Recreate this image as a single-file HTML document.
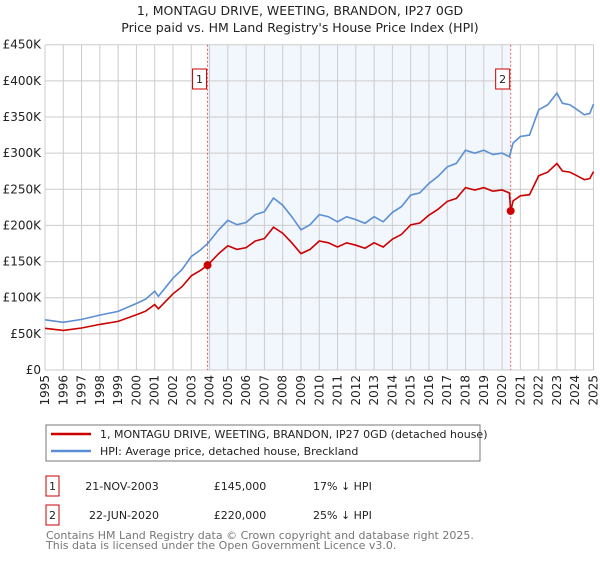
<!DOCTYPE html>
<html><head><meta charset="utf-8"><style>
body{margin:0;background:#fff;font-family:"DejaVu Sans","Liberation Sans",sans-serif;}
svg text{font-family:"DejaVu Sans","Liberation Sans",sans-serif;}
</style></head><body>
<svg id="c" width="600" height="560" viewBox="0 0 600 560" xmlns="http://www.w3.org/2000/svg">
<text x="300" y="15" text-anchor="middle" font-size="12.5" fill="#222">1, MONTAGU DRIVE, WEETING, BRANDON, IP27 0GD</text>
<text x="300" y="32" text-anchor="middle" font-size="12.5" fill="#222">Price paid vs. HM Land Registry's House Price Index (HPI)</text>
<g id="grid"></g><g id="marks"></g><g id="axes"></g>
<rect x="46" y="425" width="434" height="36" fill="#fff" stroke="#777"/>
<line x1="51" y1="434" x2="91" y2="434" stroke="#cc0000" stroke-width="2.5"/>
<text x="100" y="438" font-size="11" fill="#222">1, MONTAGU DRIVE, WEETING, BRANDON, IP27 0GD (detached house)</text>
<line x1="51" y1="451" x2="91" y2="451" stroke="#5b8fd4" stroke-width="2.5"/>
<text x="100" y="455" font-size="11" fill="#222">HPI: Average price, detached house, Breckland</text>
<rect x="46" y="476" width="13" height="20" fill="#fff" stroke="#cc0000"/>
<text x="52.5" y="490" text-anchor="middle" font-size="11" fill="#222">1</text>
<text x="122" y="490" text-anchor="middle" font-size="11" fill="#222">21-NOV-2003</text>
<text x="240" y="490" text-anchor="middle" font-size="11" fill="#222">£145,000</text>
<text x="313" y="490" font-size="11" fill="#222">17% ↓ HPI</text>
<rect x="46" y="505" width="13" height="20" fill="#fff" stroke="#cc0000"/>
<text x="52.5" y="519" text-anchor="middle" font-size="11" fill="#222">2</text>
<text x="124" y="519" text-anchor="middle" font-size="11" fill="#222">22-JUN-2020</text>
<text x="240" y="519" text-anchor="middle" font-size="11" fill="#222">£220,000</text>
<text x="313" y="519" font-size="11" fill="#222">25% ↓ HPI</text>
<text x="46" y="539" font-size="11" fill="#777">Contains HM Land Registry data © Crown copyright and database right 2025.</text>
<text x="46" y="549" font-size="11" fill="#777">This data is licensed under the Open Government Licence v3.0.</text>
</svg>
<script>
const hpiYears=[1995,1996,1997,1998,1999,2000,2000.5,2001,2001.2,2002,2002.5,2003,2003.5,2003.9,2004.5,2005,2005.5,2006,2006.5,2007,2007.5,2008,2008.5,2009,2009.5,2010,2010.5,2011,2011.5,2012,2012.5,2013,2013.5,2014,2014.5,2015,2015.5,2016,2016.5,2017,2017.5,2018,2018.5,2019,2019.5,2020,2020.4,2020.6,2021,2021.5,2022,2022.5,2023,2023.3,2023.7,2024,2024.5,2024.8,2025];
const hpiValues=[69.5,66,70,76,81,92,98,109,102,127,139,157,166,175,194,207,201,204,215,219,238,228,212,194,201,215,212,205,212,208,203,212,205,218,226,242,245,258,268,281,286,304,300,304,298,300,295,314,323,325,360,367,383,369,367,362,353,355,368];
const propYears=[1995,1996,1997,1998,1999,2000,2000.5,2001,2001.2,2002,2002.5,2003,2003.5,2003.9,2004.5,2005,2005.5,2006,2006.5,2007,2007.5,2008,2008.5,2009,2009.5,2010,2010.5,2011,2011.5,2012,2012.5,2013,2013.5,2014,2014.5,2015,2015.5,2016,2016.5,2017,2017.5,2018,2018.5,2019,2019.5,2020,2020.4,2020.47,2020.6,2021,2021.5,2022,2022.5,2023,2023.3,2023.7,2024,2024.5,2024.8,2025];
const propValues=[57.7,54.8,58.1,63.1,67.2,76.4,81.3,90.5,84.7,105.4,115.4,130.3,137.8,145,161,171.8,166.8,169.3,178.5,181.8,197.5,189.2,176,161,166.8,178.5,176,170.2,176,172.6,168.5,176,170.2,181,187.6,200.9,203.4,214.1,222.4,233.2,237.4,252.3,249,252.3,247.3,249,245,220,234,241,242.5,268.6,273.8,285.7,275.3,273.8,270,263.3,264.8,274.5];
const saleYears=[2003.89,2020.47];
const salePrices=[145,220];
const saleLabels=["1","2"];
const yTicks=[0,50,100,150,200,250,300,350,400,450];
const yTickLabels=["£0","£50K","£100K","£150K","£200K","£250K","£300K","£350K","£400K","£450K"];
const xTicks=[1995,1996,1997,1998,1999,2000,2001,2002,2003,2004,2005,2006,2007,2008,2009,2010,2011,2012,2013,2014,2015,2016,2017,2018,2019,2020,2021,2022,2023,2024,2025];

const L=45,R=593.5,T=44.7,B=370;
const xs=y=>L+(y-1995)/30*(R-L);
const ys=v=>B-v/450*(B-T);
const NS="http://www.w3.org/2000/svg";
function mk(p,tag,at){const e=document.createElementNS(NS,tag);for(const k in at)e.setAttribute(k,at[k]);p.appendChild(e);return e;}
const grid=document.getElementById('grid'),marks=document.getElementById('marks'),axes=document.getElementById('axes');
const sh=mk(grid,'rect',{x:xs(saleYears[0]),y:T,width:xs(saleYears[1])-xs(saleYears[0]),height:B-T,fill:'#f2f6fd'});


yTicks.forEach((v,i)=>{
  const g=mk(grid,'line',{x1:L,x2:R,y1:ys(v),y2:ys(v),stroke:'#cccccc','stroke-width':1});
  
  
  const t=mk(axes,'text',{x:L-4,y:ys(v)+4,'text-anchor':'end','font-size':'12',fill:'#222'});
  t.textContent=yTickLabels[i];
  
  
});
xTicks.forEach(y=>{
  const g=mk(grid,'line',{x1:xs(y),x2:xs(y),y1:T,y2:B,stroke:'#cccccc','stroke-width':1});
  
  
  const t=mk(axes,'text',{x:0,y:0,'text-anchor':'end','font-size':'12',fill:'#222',transform:`translate(${xs(y)+4},${B+5}) rotate(-90)`});
  t.textContent=y;
  
  
});
saleYears.forEach((y,i)=>{
  const l=mk(marks,'line',{x1:xs(y),x2:xs(y),y1:T,y2:B,stroke:'#e06060','stroke-width':1,'stroke-dasharray':'2,2'});
  
  
});
function path(xa,va,col,name){
  const d=xa.map((y,i)=>(i?'L':'M')+xs(y).toFixed(1)+','+ys(va[i]).toFixed(1)).join('');
  const p=mk(marks,'path',{d:d,fill:'none',stroke:col,'stroke-width':1.6});
  
  
}
path(hpiYears,hpiValues,'#5b8fd4','hpi-line');
path(propYears,propValues,'#cc0000','property-price-line');
saleYears.forEach((y,i)=>{
  const c=mk(marks,'circle',{cx:xs(y),cy:ys(salePrices[i]),r:4,fill:'#cc0000'});
  
  
  const bx=mk(marks,'rect',{x:xs(y)-15,y:69,width:14,height:20,fill:'#fff',stroke:'#cc0000'});
  
  
  const t=mk(marks,'text',{x:xs(y)-8,y:83,'text-anchor':'middle','font-size':'11',fill:'#222'});
  t.textContent=saleLabels[i];
  
  
});
</script>
</body></html>
